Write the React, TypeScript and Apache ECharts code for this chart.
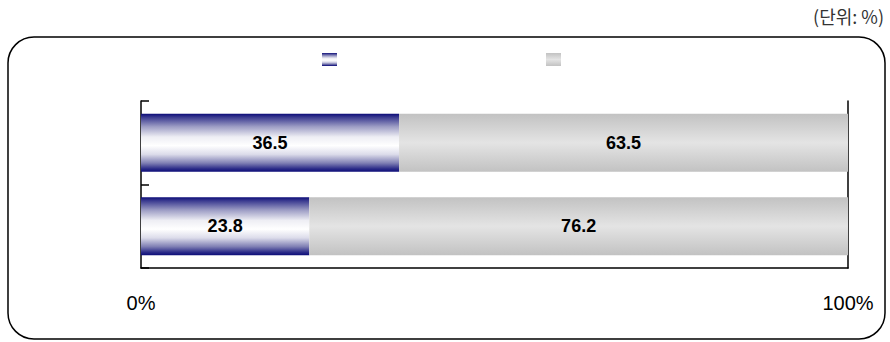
import React, { useEffect, useRef } from "react";
import * as echarts from "echarts";

const categories = ["2", "1"]; // bottom bar first (ECharts draws first category at bottom)
const seriesNames = ["A", "B"];
const seriesA = [23.8, 36.5];
const seriesB = [76.2, 63.5];
const xTicks = [0, 100];
const unitText = "(단위: %)";

export default function App() {
  const ref = useRef<HTMLDivElement>(null);
  useEffect(() => {
    document.body.style.margin = "0";
    const chart = echarts.init(ref.current!, null, { renderer: "svg" });
    const blue = new echarts.graphic.LinearGradient(0, 0, 0, 1, [
      { offset: 0, color: "#0c0c78" },
      { offset: 0.06, color: "#3a3a90" },
      { offset: 0.22, color: "#9c9cc4" },
      { offset: 0.4, color: "#eeeef4" },
      { offset: 0.55, color: "#ffffff" },
      { offset: 0.7, color: "#dcdcea" },
      { offset: 0.85, color: "#8080b4" },
      { offset: 0.95, color: "#2a2a88" },
      { offset: 1, color: "#0c0c78" },
    ]);
    const gray = new echarts.graphic.LinearGradient(0, 0, 0, 1, [
      { offset: 0, color: "#c2c2c2" },
      { offset: 0.5, color: "#e4e4e4" },
      { offset: 1, color: "#c2c2c2" },
    ]);
    const labelStyle = {
      show: true,
      position: "inside" as const,
      color: "#000",
      fontFamily: "Liberation Sans, Arial, sans-serif",
      fontWeight: "bold" as const,
      fontSize: 18,
      formatter: (p: any) => p.value.toFixed(1),
    };
    chart.setOption({
      animation: false,
      backgroundColor: "#fff",
      graphic: [
        {
          type: "rect",
          shape: { x: 8, y: 37, width: 877, height: 302, r: 26 },
          style: { fill: "none", stroke: "#000", lineWidth: 1.5 },
          z: -1,
        },
        {
          type: "text",
          right: 6,
          top: 7,
          style: {
            text: unitText,
            fill: "#333",
            fontSize: 18,
            fontFamily: "Noto Sans CJK KR, serif",
          },
        },
      ],
      legend: [
        {
          data: [seriesNames[0]],
          left: 317,
          top: 48,
          icon: "rect",
          itemWidth: 15,
          itemHeight: 13,
          formatter: () => "",
          selectedMode: false,
        },
        {
          data: [seriesNames[1]],
          left: 541,
          top: 48,
          icon: "rect",
          itemWidth: 15,
          itemHeight: 13,
          formatter: () => "",
          selectedMode: false,
        },
      ],
      grid: { left: 141, right: 42, top: 101, bottom: 74 },
      xAxis: {
        type: "value",
        min: xTicks[0],
        max: xTicks[1],
        interval: 100,
        axisLine: { show: true, lineStyle: { color: "#000", width: 1.5 } },
        axisTick: { show: false },
        splitLine: { show: false },
        axisLabel: {
          formatter: "{value}%",
          margin: 25,
          fontSize: 20,
          color: "#000",
          fontFamily: "Liberation Sans, Arial, sans-serif",
        },
      },
      yAxis: [
        {
          type: "category",
          data: categories,
          axisLine: { show: true, lineStyle: { color: "#000", width: 1.5 } },
          axisTick: { show: true, inside: true, length: 8, lineStyle: { color: "#000", width: 1.5 } },
          axisLabel: { show: false },
        },
        {
          type: "category",
          data: categories,
          position: "right",
          axisLine: { show: true, lineStyle: { color: "#000", width: 1.5 } },
          axisTick: { show: false },
          axisLabel: { show: false },
        },
      ],
      series: [
        {
          name: seriesNames[0],
          type: "bar",
          stack: "s",
          data: seriesA,
          barWidth: 58,
          itemStyle: { color: blue },
          label: labelStyle,
        },
        {
          name: seriesNames[1],
          type: "bar",
          stack: "s",
          data: seriesB,
          barWidth: 58,
          itemStyle: { color: gray },
          label: labelStyle,
        },
      ],
    });
    return () => chart.dispose();
  }, []);
  return (
    <div
      ref={ref}
      style={{ position: "absolute", left: 0, top: 0, width: 890, height: 342 }}
    />
  );
}
